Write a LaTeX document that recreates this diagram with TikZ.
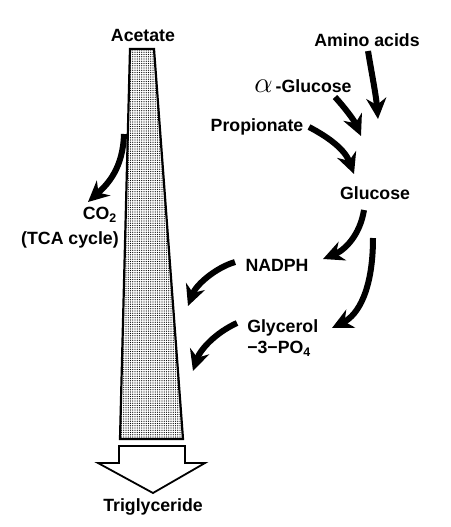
\documentclass[tikz,border=0pt]{standalone}
\usepackage{fontspec}
\setmainfont{Liberation Sans}
\usetikzlibrary{arrows.meta,patterns.meta}

\begin{document}
\begin{tikzpicture}[x=0.025cm,y=-0.025cm,
    label/.style={font=\fontsize{12.6}{15.5}\selectfont\bfseries,inner sep=0pt,align=center},
    vatBody/.style={draw=black,line width=0.55mm,pattern={Dots[distance=1.6pt,radius=0.5pt]}},
    outArrow/.style={draw=black,line width=0.45mm,fill=white,line join=miter},
    fluxArrow/.style={draw=black,line width=1.5mm,-{Stealth[length=5.2mm,width=5mm,inset=1.7mm]}}
]
\useasboundingbox (0,0) rectangle (450,527);
% labels
\node[label] (Ac) at (143,35) {Acetate};
\node[label] (Am) at (367,40) {Amino acids};
\node[label] (Ag) at (303,86) {{\fontsize{22}{22}\selectfont$\alpha$}\,-Glucose};
\node[label] (Pr) at (257,127) {Propionate};
\node[label] (Gl) at (375,193) {Glucose};
\node[label] (Co) at (100,215) {CO\textsubscript{2}};
\node[label,anchor=east] (Tc) at (119,240) {(TCA cycle)};
\node[label] (Na) at (277,265) {NADPH};
\node[label,anchor=west,align=left] (Gp) at (247,338) {Glycerol\\−3−PO\textsubscript{4}};
\node[label] (Tg) at (153,507) {Triglyceride};
% acetate column and outlet
\draw[vatBody] (130,49) -- (154,49) -- (183,439) -- (120,439) -- cycle;
\draw[outArrow] (119,446) -- (185,446) -- (185,463) -- (205,463) -- (153,493) -- (98,463) -- (119,463) -- cycle;
% arrow ends
\coordinate (acOut) at (124,134);
\coordinate (coIn) at (88,202);
\coordinate (amOut) at (368,51);
\coordinate (amIn) at (378,119);
\coordinate (agOut) at (335,97);
\coordinate (agIn) at (361,136);
\coordinate (prOut) at (309,127);
\coordinate (prIn) at (354,174);
\coordinate (glOutA) at (364,210);
\coordinate (naIn) at (323,259);
\coordinate (glOutB) at (373,238);
\coordinate (gpIn) at (332,328);
\coordinate (naOut) at (235,262);
\coordinate (naTo) at (188,306);
\coordinate (gpOut) at (237,323);
\coordinate (gpTo) at (193,371);
% fluxes
\draw[fluxArrow] (acOut) .. controls (123,168) and (108,184) .. (coIn);
\draw[fluxArrow] (amOut) .. controls (372,75) and (376,95) .. (amIn);
\draw[fluxArrow] (agOut) .. controls (345,108) and (354,120) .. (agIn);
\draw[fluxArrow] (prOut) .. controls (330,138) and (345,150) .. (prIn);
\draw[fluxArrow] (glOutA) .. controls (360,235) and (345,250) .. (naIn);
\draw[fluxArrow] (glOutB) .. controls (373,290) and (358,315) .. (gpIn);
\draw[fluxArrow] (naOut) .. controls (215,268) and (196,285) .. (naTo);
\draw[fluxArrow] (gpOut) .. controls (215,333) and (200,350) .. (gpTo);
\end{tikzpicture}
\end{document}
